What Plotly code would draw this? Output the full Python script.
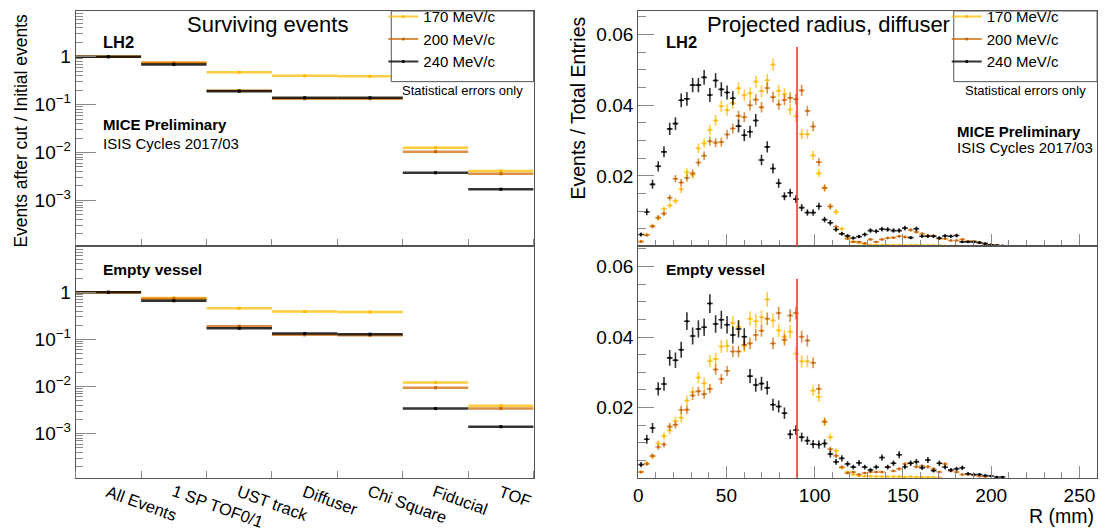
import numpy as np
import plotly.graph_objects as go

W, H = 1119, 532
FONT = "Liberation Sans"

# --- cut flow (left) ---
cuts = ["All Events", "1 SP TOF0/1", "UST track", "Diffuser", "Chi Square", "Fiducial", "TOF"]
momenta = ["170 MeV/c", "200 MeV/c", "240 MeV/c"]

lh2_170 = [1.0, 0.76, 0.477, 0.40, 0.39, 0.0126, 0.0041]
lh2_200 = [1.0, 0.74, 0.198, 0.133, 0.133, 0.0104, 0.0036]
lh2_240 = [1.0, 0.69, 0.19, 0.14, 0.14, 0.0038, 0.0017]

ev_170 = [1.0, 0.76, 0.457, 0.39, 0.38, 0.0121, 0.0039]
ev_200 = [1.0, 0.73, 0.19, 0.125, 0.122, 0.0094, 0.0034]
ev_240 = [1.0, 0.66, 0.172, 0.133, 0.129, 0.0034, 0.0014]

log_ticks = [1, 0.1, 0.01, 0.001]
log_ticktext = ["1", "10<sup>\u22121</sup>", "10<sup>\u22122</sup>", "10<sup>\u22123</sup>"]

# --- projected radius at diffuser (right), 3.25 mm bins starting at 0 ---
BIN_W = 3.25
R_CUT = 90
R_CUT_TOP = 0.0565

rad_lh2_170 = [0.0014, 0.0034, 0.0058, 0.0080, 0.0106, 0.0116, 0.0129, 0.0162, 0.0210, 0.0203,
               0.0278, 0.0292, 0.0330, 0.0357, 0.0397, 0.0386, 0.0406, 0.0448, 0.0429, 0.0434,
               0.0467, 0.0440, 0.0471, 0.0515, 0.0441, 0.0431, 0.0388, 0.0369, 0.0318, 0.0318,
               0.0258, 0.0207, 0.0166, 0.0114, 0.0098, 0.0050, 0.0025, 0.0014, 0.0010, 0.0007,
               0.0005, 0.0004, 0.0004, 0.0004, 0.0004, 0.0004, 0.0003, 0.0004, 0.0004, 0.0003,
               0.0003, 0.0003, 0.0003, 0.0002, 0.0002, 0.0002]
rad_lh2_200 = [0.0014, 0.0032, 0.0057, 0.0082, 0.0093, 0.0138, 0.0192, 0.0181, 0.0194, 0.0207,
               0.0238, 0.0257, 0.0298, 0.0294, 0.0296, 0.0317, 0.0334, 0.0370, 0.0366, 0.0400,
               0.0416, 0.0394, 0.0449, 0.0423, 0.0402, 0.0415, 0.0421, 0.0417, 0.0442, 0.0384,
               0.0340, 0.0239, 0.0166, 0.0113, 0.0056, 0.0036, 0.0022, 0.0013, 0.0013, 0.0009,
               0.0020, 0.0013, 0.0020, 0.0024, 0.0025, 0.0029, 0.0027, 0.0047, 0.0041, 0.0036,
               0.0031, 0.0030, 0.0022, 0.0022, 0.0017, 0.0017, 0.0020, 0.0015, 0.0015, 0.0011,
               0.0008, 0.0005, 0.0003, 0.0002]
rad_lh2_240 = [0.0034, 0.0098, 0.0176, 0.0227, 0.0268, 0.0333, 0.0348, 0.0414, 0.0418, 0.0457,
               0.0457, 0.0479, 0.0429, 0.0470, 0.0445, 0.0436, 0.0420, 0.0341, 0.0315, 0.0325,
               0.0357, 0.0245, 0.0282, 0.0221, 0.0179, 0.0142, 0.0152, 0.0134, 0.0110, 0.0096,
               0.0096, 0.0114, 0.0076, 0.0067, 0.0048, 0.0036, 0.0030, 0.0024, 0.0028, 0.0034,
               0.0045, 0.0043, 0.0049, 0.0048, 0.0045, 0.0045, 0.0052, 0.0025, 0.0050, 0.0029,
               0.0029, 0.0029, 0.0024, 0.0030, 0.0029, 0.0031, 0.0013, 0.0013, 0.0013, 0.0011,
               0.0008, 0.0005, 0.0003, 0.0002]

rad_ev_170 = [0.0017, 0.0042, 0.0061, 0.0098, 0.0119, 0.0135, 0.0162, 0.0171, 0.0220, 0.0244,
              0.0285, 0.0269, 0.0332, 0.0338, 0.0373, 0.0375, 0.0440, 0.0429, 0.0375, 0.0452,
              0.0445, 0.0456, 0.0507, 0.0447, 0.0419, 0.0401, 0.0415, 0.0353, 0.0331, 0.0331,
              0.0248, 0.0230, 0.0160, 0.0116, 0.0077, 0.0029, 0.0017, 0.0010, 0.0006, 0.0005,
              0.0005, 0.0004, 0.0004, 0.0004, 0.0004, 0.0004, 0.0003, 0.0004, 0.0003, 0.0003,
              0.0003, 0.0002, 0.0002]
rad_ev_200 = [0.0017, 0.0040, 0.0063, 0.0088, 0.0095, 0.0146, 0.0151, 0.0193, 0.0194, 0.0234,
              0.0246, 0.0238, 0.0253, 0.0308, 0.0281, 0.0304, 0.0359, 0.0359, 0.0378, 0.0382,
              0.0406, 0.0418, 0.0452, 0.0382, 0.0468, 0.0392, 0.0461, 0.0468, 0.0401, 0.0390,
              0.0327, 0.0253, 0.0160, 0.0082, 0.0063, 0.0031, 0.0014, 0.0017, 0.0010, 0.0014,
              0.0017, 0.0017, 0.0017, 0.0031, 0.0020, 0.0026, 0.0040, 0.0042, 0.0032, 0.0034,
              0.0032, 0.0026, 0.0017, 0.0040, 0.0020, 0.0017, 0.0010, 0.0010, 0.0008, 0.0005,
              0.0004]
rad_ev_240 = [0.0038, 0.0110, 0.0142, 0.0253, 0.0267, 0.0341, 0.0334, 0.0364, 0.0445, 0.0403,
              0.0423, 0.0428, 0.0495, 0.0437, 0.0449, 0.0435, 0.0406, 0.0423, 0.0401, 0.0289,
              0.0264, 0.0268, 0.0256, 0.0208, 0.0203, 0.0184, 0.0124, 0.0136, 0.0116, 0.0106,
              0.0096, 0.0095, 0.0098, 0.0068, 0.0046, 0.0056, 0.0040, 0.0031, 0.0043, 0.0031,
              0.0023, 0.0031, 0.0058, 0.0031, 0.0042, 0.0066, 0.0032, 0.0042, 0.0046, 0.0029,
              0.0051, 0.0021, 0.0042, 0.0031, 0.0023, 0.0026, 0.0029, 0.0012, 0.0010, 0.0010,
              0.0007, 0.0006, 0.0003, 0.0003]

# entries per histogram, used for the sqrt(N) errors of the normalised bins
n_lh2 = [15500, 17800, 11000]
n_ev = [11000, 14000, 7000]

marker_cols = ["#FFB800", "#C86400", "#000000"]
bar_cols = ["rgba(255,190,0,0.75)", "rgba(204,102,0,0.72)", "rgba(0,0,0,0.8)"]


def px(x):
    return x / W


def py(y):
    return 1 - y / H


fig = go.Figure()

# left panels
for ax, series in [("", [lh2_170, lh2_200, lh2_240]), ("2", [ev_170, ev_200, ev_240])]:
    for k, vals in enumerate(series):
        fig.add_trace(go.Scatter(
            x=list(range(len(cuts))), y=vals, mode="markers",
            marker=dict(symbol="square", size=3, color=marker_cols[k]),
            error_x=dict(type="constant", value=0.5, thickness=2.5, width=0, color=bar_cols[k]),
            showlegend=False, hoverinfo="skip",
            xaxis="x" + ax, yaxis="y" + ax))

# right panels
for ax, series, ns in [("3", [rad_lh2_170, rad_lh2_200, rad_lh2_240], n_lh2),
                       ("4", [rad_ev_170, rad_ev_200, rad_ev_240], n_ev)]:
    for k, vals in enumerate(series):
        v = np.array(vals)
        centers = (np.arange(len(v)) + 0.5) * BIN_W
        fig.add_trace(go.Scatter(
            x=centers, y=v, mode="markers",
            marker=dict(size=2.5, color=marker_cols[k]),
            error_x=dict(type="constant", value=BIN_W / 2, thickness=1.6, width=0, color=bar_cols[k]),
            error_y=dict(type="data", array=np.sqrt(v / ns[k]), thickness=1.6, width=0, color=bar_cols[k]),
            showlegend=False, hoverinfo="skip",
            xaxis="x" + ax, yaxis="y" + ax))

# legend entries
for leg, ax in [("legend", ""), ("legend2", "3")]:
    for k, name in enumerate(momenta):
        fig.add_trace(go.Scatter(
            x=[None], y=[None], mode="lines+markers", name=name,
            line=dict(color=bar_cols[k], width=2),
            marker=dict(size=3, color=marker_cols[k]),
            legend=leg, xaxis="x" + ax, yaxis="y" + ax))

frame = "#555555"
tickc = "#8a8a8a"
dom_left = [px(71), px(531)]
dom_right = [px(636), px(1097)]
dom_top = [py(241), py(1)]
dom_bot = [py(477), py(241)]
tickfont = dict(family=FONT, size=19, color="black")


def cut_xaxis(anchor, domain):
    return dict(domain=domain, anchor=anchor, range=[-0.5, 6.5],
                showticklabels=False, ticks="",
                minor=dict(ticks="inside", tick0=0.5, dtick=1, ticklen=7, tickcolor=tickc),
                showline=True, linecolor=frame, mirror=True, showgrid=False, zeroline=False)


def log_yaxis(anchor, domain, rng):
    return dict(domain=domain, anchor=anchor, type="log", range=rng,
                tickmode="array", tickvals=log_ticks, ticktext=log_ticktext,
                ticks="inside", ticklen=20, tickcolor=tickc, tickfont=tickfont,
                minor=dict(ticks="inside", dtick="D1", ticklen=7, tickcolor=tickc),
                showline=True, linecolor=frame, mirror=True, showgrid=False, zeroline=False)


def r_xaxis(anchor, domain, labels):
    return dict(domain=domain, anchor=anchor, range=[0, 260], tickmode="linear", tick0=0, dtick=50,
                ticks="inside", ticklen=12, tickcolor=tickc, showticklabels=labels, tickfont=tickfont,
                minor=dict(ticks="inside", dtick=10, ticklen=6, tickcolor=tickc),
                showline=True, linecolor=frame, mirror=True, showgrid=False, zeroline=False)


def r_yaxis(anchor, domain, top):
    return dict(domain=domain, anchor=anchor, range=[0, top],
                tickmode="array", tickvals=[0.02, 0.04, 0.06], ticktext=["0.02", "0.04", "0.06"],
                ticks="inside", ticklen=16, tickcolor=tickc, tickfont=tickfont,
                minor=dict(ticks="inside", tick0=0, dtick=0.005, ticklen=8, tickcolor=tickc),
                showline=True, linecolor=frame, mirror=True, showgrid=False, zeroline=False)


fig.update_layout(
    width=W, height=H, margin=dict(l=0, r=0, t=0, b=0),
    paper_bgcolor="white", plot_bgcolor="white",
    font=dict(family=FONT, color="black"),
    xaxis=cut_xaxis("y", dom_left),
    yaxis=log_yaxis("x", dom_top, [-3.963, 0.957]),
    xaxis2=cut_xaxis("y2", dom_left),
    yaxis2=log_yaxis("x2", dom_bot, [-3.944, 0.973]),
    xaxis3=r_xaxis("y3", dom_right, False),
    yaxis3=r_yaxis("x3", dom_top, 0.0667),
    xaxis4=r_xaxis("y4", dom_right, True),
    yaxis4=r_yaxis("x4", dom_bot, 0.0657),
    legend=dict(x=px(380), y=py(-10), xanchor="left", yanchor="top", bgcolor="rgba(0,0,0,0)",
                font=dict(family=FONT, size=15), itemwidth=30, tracegroupgap=0),
    legend2=dict(x=px(946), y=py(-10), xanchor="left", yanchor="top", bgcolor="rgba(0,0,0,0)",
                 font=dict(family=FONT, size=15), itemwidth=30, tracegroupgap=0),
)

shapes = [
    dict(type="rect", xref="paper", yref="paper", x0=px(388), x1=px(531), y0=py(73), y1=py(1),
         line=dict(color=frame, width=1), fillcolor="white", layer="above"),
    dict(type="rect", xref="paper", yref="paper", x0=px(953), x1=px(1097), y0=py(73), y1=py(1),
         line=dict(color=frame, width=1), fillcolor="white", layer="above"),
]
for ax in ["3", "4"]:
    shapes.append(dict(type="line", xref="x" + ax, yref="y" + ax, x0=R_CUT, x1=R_CUT, y0=0, y1=R_CUT_TOP,
                       line=dict(color="rgba(255,60,60,0.85)", width=2)))
fig.update_layout(shapes=shapes)


def note(text, x, y, size, bold=False, xanchor="left", angle=0):
    if bold:
        text = "<b>" + text + "</b>"
    fig.add_annotation(text=text, x=px(x), y=py(y), xref="paper", yref="paper",
                       xanchor=xanchor, yanchor="middle", showarrow=False, textangle=angle,
                       font=dict(family=FONT, size=size, color="black"))


# tilted cut names under the lower left pad, one per bin of the cut axis
for i, name in enumerate(cuts):
    fig.add_annotation(text=name, x=i, xref="x2", y=py(478), yref="paper",
                       xanchor="left", yanchor="top", xshift=-7, showarrow=False, textangle=20,
                       font=dict(family=FONT, size=16.5, color="black"))

note("Surviving events", 264, 15, 22, xanchor="center")
note("LH2", 96, 33, 16.5, bold=True)
note("MICE Preliminary", 96, 117, 15, bold=True)
note("ISIS Cycles 2017/03", 96, 136, 15)
note("Statistical errors only", 460, 82, 13, xanchor="center")
note("Empty vessel", 96, 264, 15.5, bold=True)
note("Events after cut / Initial events", 16, 123, 17.5, xanchor="center", angle=-90)

note("Projected radius, diffuser", 827, 15, 22, xanchor="center")
note("LH2", 662, 33, 16.5, bold=True)
note("Statistical errors only", 1025, 82, 13, xanchor="center")
note("MICE Preliminary", 954, 124, 15, bold=True)
note("ISIS Cycles 2017/03", 954, 140, 15)
note("Empty vessel", 662, 264, 15.5, bold=True)
note("Events / Total Entries", 576, 100, 19.5, xanchor="center", angle=-90)
note("R (mm)", 1096, 516, 19.5, xanchor="right")

fig.write_html("out.html", config={"displayModeBar": False},
               post_script="document.body.style.margin='0';")
